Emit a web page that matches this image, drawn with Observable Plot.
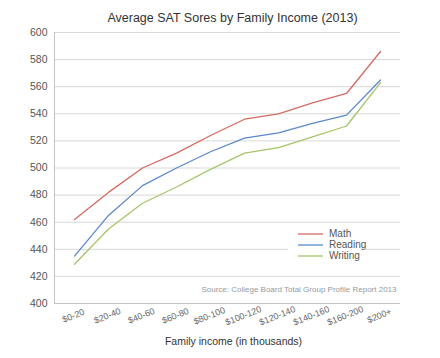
<!DOCTYPE html>
<html>
<head>
<meta charset="utf-8">
<script src="https://cdn.jsdelivr.net/npm/d3@7"></script>
<script src="https://cdn.jsdelivr.net/npm/@observablehq/plot@0.6"></script>
<style>
  body { margin: 0; background: #fff; }
  svg { font-family: "Liberation Sans", Helvetica, Arial, sans-serif; }
</style>
</head>
<body>
<div id="chart"></div>
<script>
const categories = ["$0-20", "$20-40", "$40-60", "$60-80", "$80-100", "$100-120", "$120-140", "$140-160", "$160-200", "$200+"];
const math    = [462, 482, 500, 511, 524, 536, 540, 548, 555, 586];
const reading = [435, 465, 487, 500, 512, 522, 526, 533, 539, 565];
const writing = [429, 455, 474, 486, 499, 511, 515, 523, 531, 563];
const seriesNames = ["Math", "Reading", "Writing"];
const seriesColors = ["#d36b62", "#5b88c9", "#a6c46b"];
const yTicks = [400, 420, 440, 460, 480, 500, 520, 540, 560, 580, 600];

const rows = [];
[math, reading, writing].forEach((vals, si) => {
  vals.forEach((v, i) => rows.push({series: seriesNames[si], income: categories[i], score: v}));
});

const chart = Plot.plot({
  width: 440,
  height: 358,
  marginLeft: 54,
  marginRight: 40,
  marginTop: 32,
  marginBottom: 55,
  style: {fontSize: "10px", color: "#555", background: "#fff"},
  x: {type: "point", domain: categories, padding: 0.52, axis: null},
  y: {domain: [400, 600], ticks: yTicks, axis: null},
  color: {domain: seriesNames, range: seriesColors},
  marks: [
    Plot.gridY(yTicks.slice(1), {stroke: "#d8d8d8", strokeOpacity: 1, strokeWidth: 1}),
    Plot.ruleY([400], {stroke: "#c4c4c4"}),
    Plot.frame({anchor: "left", stroke: "#c4c4c4"}),
    Plot.axisY(yTicks, {tickSize: 0, tickPadding: 7, fill: "#555", fontSize: 10.5, label: null}),
    Plot.lineY(rows, {x: "income", y: "score", z: "series", stroke: "series", strokeWidth: 1.3}),
    Plot.text(categories, {x: d => d, frameAnchor: "bottom", dy: 15, rotate: -22, textAnchor: "middle", fill: "#666", fontSize: 9}),
    Plot.text(["Average SAT Sores by Family Income (2013)"], {frameAnchor: "top", dx: 5, dy: -19, fontSize: 12.5, fill: "#333", textAnchor: "middle"}),
    Plot.text(["Family income (in thousands)"], {frameAnchor: "bottom", dx: 6, dy: 41, fontSize: 10.5, fill: "#333"}),
    Plot.text(["Source: College Board Total Group Profile Report 2013"], {frameAnchor: "bottom-right", dx: -4, dy: -12, fontSize: 8, fill: "#999", textAnchor: "end"}),
  ]
});

const svg = d3.select(chart);
const legend = svg.append("g").attr("transform", "translate(288,226)");
legend.append("rect").attr("x", 0).attr("y", 0).attr("width", 78).attr("height", 38).attr("fill", "#fff");
seriesNames.forEach((name, i) => {
  const y = 8 + i * 11;
  legend.append("line").attr("x1", 10).attr("x2", 35).attr("y1", y).attr("y2", y)
    .attr("stroke", seriesColors[i]).attr("stroke-width", 1.3);
  legend.append("text").attr("x", 41).attr("y", y).attr("dy", "0.32em")
    .attr("text-anchor", "start")
    .attr("font-size", 10).attr("fill", "#555").text(name);
});

document.getElementById("chart").appendChild(chart);
</script>
</body>
</html>
